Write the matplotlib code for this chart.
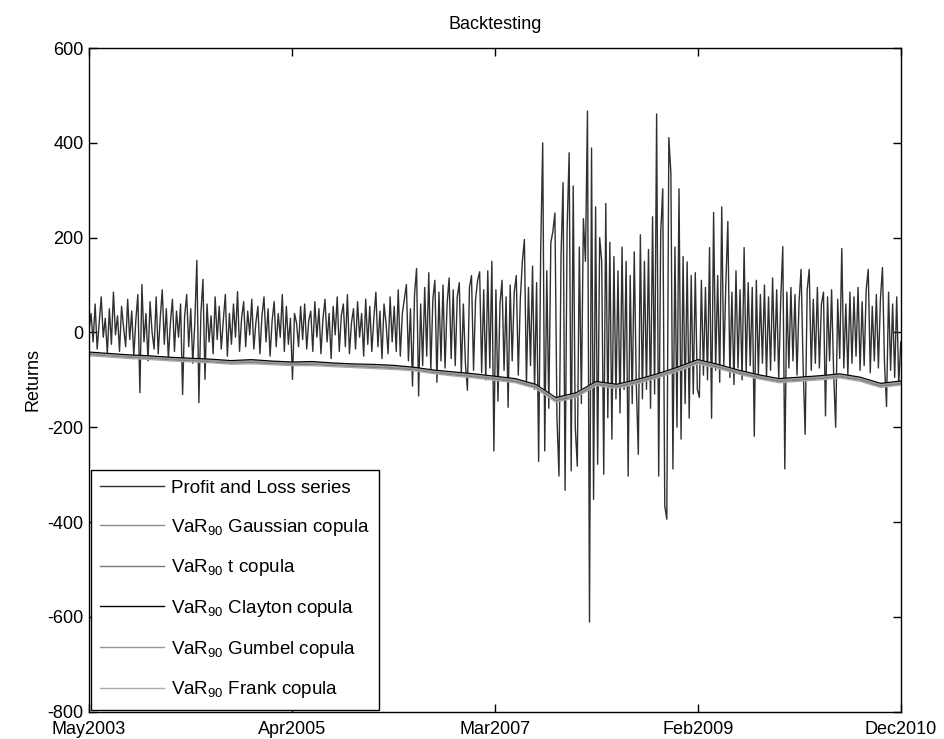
import numpy as np
import matplotlib
matplotlib.use("Agg")
import matplotlib.pyplot as plt

plt.rcParams['font.family'] = ['Liberation Sans', 'DejaVu Sans']
plt.rcParams['mathtext.fontset'] = 'custom'
plt.rcParams['mathtext.rm'] = 'Liberation Sans'
plt.rcParams['mathtext.it'] = 'Liberation Sans:italic'
plt.rcParams['axes.unicode_minus'] = False

# ---------------- data ----------------
tick_labels = ["May2003", "Apr2005", "Mar2007", "Feb2009", "Dec2010"]

pnl = [
    5, 40, -20, 60, -35, 20, 75, -10, 30, -45,
    50, -25, 85, -5, 35, -40, 55, 10, -30, 70,
    -15, 45, -50, 25, 80, -127, 101, -20, 40, -60,
    65, 0, -35, 75, -45, 30, 90, -25, 50, -55,
    20, 70, -40, 45, -10, 60, -131, 35, 80, -30,
    50, -65, 20, 152, -148, 40, 112, -99, 60, -20,
    35, -45, 75, -15, 55, -35, 25, 80, -50, 40,
    -25, 60, -10, 86, -40, 30, 65, -30, 45, -5,
    70, -35, 20, 55, -45, 35, 75, -20, 50, -50,
    25, 65, -30, 40, -10, 80, -40, 55, -25, 30,
    -99, 40, 20, -30, 55, -15, 60, -35, 25, 45,
    -40, 65, -10, 50, -45, 30, 70, -20, 40, -55,
    55, -5, 75, -40, 35, 60, -30, 80, -45, 20,
    50, -35, 65, -10, 40, -50, 70, -25, 55, -40,
    30, 85, -30, 45, -55, 60, 20, -45, 75, -20,
    55, -40, 90, -50, 40, 70, 101, -60, 50, -113,
    80, 135, -134, 60, -70, 95, -50, 126, -80, 70,
    110, -105, 85, -60, 100, -75, 60, 115, -55, 90,
    -70, 75, 105, -90, 60, -65, -122, 95, 120, -80,
    70, 110, 128, -85, 90, -100, 130, -75, 150, -250,
    90, -145, 60, 110, -80, 75, -158, 100, -60, 85,
    120, -90, 70, 150, 196, -110, 95, -70, 140, -120,
    105, -272, 170, 400, -250, 130, -160, 190, 213, 252,
    -180, -303, 160, 316, -333, 220, 379, -292, 309, -200,
    -282, 180, -150, 240, 150, 467, -611, 389, -352, 265,
    -278, 200, 150, -299, 272, -180, 190, -225, 160, -140,
    130, -170, 180, -120, 150, -303, 120, -150, 170, -110,
    -257, 206, -140, 150, -120, 175, -160, 244, -130, 461,
    -303, 210, 303, -366, -394, 411, 337, -288, 180, -200,
    303, -225, 160, -150, 149, -181, 120, -130, 126, -120,
    -137, 110, -90, 95, -100, 179, -181, 253, -80, 120,
    -105, 265, -70, 100, 234, -95, 85, -110, 130, -75,
    90, -100, 179, -85, 105, -70, 95, -219, 110, -90,
    80, -65, 100, -95, 75, -80, 115, -60, 90, -100,
    70, 181, -288, 85, -75, 95, -60, 80, -90, 65,
    133, -70, -215, 90, 133, -80, 70, -65, 95, -75,
    60, 85, -176, 75, -60, 90, -85, -200, 70, -55,
    177, -75, 60, -90, 85, -65, 75, -50, 95, -80,
    65, -70, 90, 133, -85, 55, -60, 80, -75, 70,
    137, -65, -156, 85, -80, 60, -95, 75, -110, -20,
]

var_clayton = [-42, -45, -48, -50, -53, -55, -57, -60, -58, -61,
               -63, -62, -65, -67, -68, -70, -74, -80, -84, -88,
               -93, -98, -110, -138, -128, -104, -110, -100, -88, -74,
               -58, -68, -80, -90, -98, -95, -92, -88, -95, -108, -103]
var_gauss = [-45, -48, -51, -53, -56, -58, -60, -63, -62, -64,
             -66, -66, -68, -70, -72, -74, -77, -83, -88, -92,
             -97, -102, -114, -142, -133, -108, -114, -104, -92, -78,
             -62, -72, -84, -94, -102, -99, -96, -92, -99, -112, -107]
var_t = [-47, -50, -53, -55, -58, -60, -62, -65, -64, -66,
         -68, -68, -70, -72, -74, -76, -79, -85, -90, -94,
         -99, -104, -116, -145, -135, -110, -116, -106, -94, -80,
         -64, -74, -86, -96, -104, -101, -98, -94, -101, -114, -109]
var_gumbel = [-44, -47, -50, -52, -55, -57, -59, -62, -60, -63,
              -65, -64, -67, -69, -70, -72, -76, -82, -86, -90,
              -95, -100, -112, -140, -130, -106, -112, -102, -90, -76,
              -60, -70, -82, -92, -100, -97, -94, -90, -97, -110, -105]
var_frank = [-49, -52, -55, -57, -60, -62, -64, -67, -66, -68,
             -70, -70, -72, -74, -76, -78, -81, -87, -92, -96,
             -101, -106, -118, -147, -137, -112, -118, -108, -96, -82,
             -66, -76, -88, -98, -106, -103, -100, -96, -103, -116, -111]

labels = ["Profit and Loss series",
          r"VaR$_{90}$ Gaussian copula",
          r"VaR$_{90}$ t copula",
          r"VaR$_{90}$ Clayton copula",
          r"VaR$_{90}$ Gumbel copula",
          r"VaR$_{90}$ Frank copula"]

# ---------------- plot ----------------
fig = plt.figure(figsize=(9.45, 7.39), dpi=100)
ax = fig.add_axes([0.0942, 0.037, 0.859, 0.898])

n = len(pnl)
x = np.arange(n)
xv = np.linspace(0, n - 1, len(var_clayton))

ax.plot(x, pnl, color='#303030', lw=1.0, label=labels[0])
ax.plot(xv, var_gauss, color='#8a8a8a', lw=1.0, label=labels[1])
ax.plot(xv, var_t, color='#7a7a7a', lw=1.0, label=labels[2])
ax.plot(xv, var_clayton, color='black', lw=1.3, label=labels[3])
ax.plot(xv, var_gumbel, color='#9a9a9a', lw=1.0, label=labels[4])
ax.plot(xv, var_frank, color='#aaaaaa', lw=1.0, label=labels[5])

ax.set_xlim(0, n - 1)
ax.set_ylim(-800, 600)
ax.set_xticks(np.linspace(0, n - 1, len(tick_labels)))
ax.set_xticklabels(tick_labels)
ax.set_yticks([600, 400, 200, 0, -200, -400, -600, -800])
ax.tick_params(direction='in', top=True, right=True, length=6, width=1,
               labelsize=13)
ax.tick_params(axis='x', pad=7)
ax.tick_params(axis='y', pad=4)
for s in ax.spines.values():
    s.set_linewidth(1.0)

ax.set_title("Backtesting", fontsize=13, pad=14)
ax.set_ylabel("Returns", fontsize=13, labelpad=4)

leg = ax.legend(loc='lower left', fontsize=13.5, handlelength=3.4,
                labelspacing=1.05, borderpad=0.5, handletextpad=0.35,
                fancybox=False, framealpha=1, edgecolor='black',
                borderaxespad=0.1)
leg.get_frame().set_linewidth(1.0)
for line in leg.get_lines():
    line.set_linewidth(1.0)

fig.savefig("out.png", dpi=100)
